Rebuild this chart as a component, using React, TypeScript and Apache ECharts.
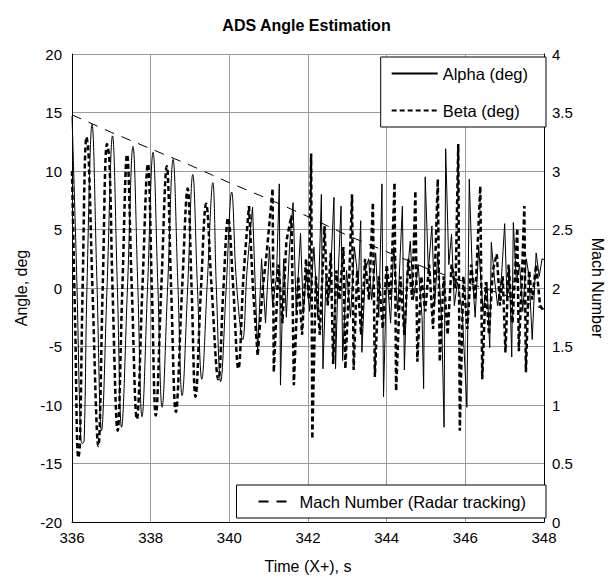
import React, { useEffect, useRef } from "react";
import * as echarts from "echarts";

// ---- Data ----
const xTicks = [336, 338, 340, 342, 344, 346, 348];

// Alpha (deg): early smooth oscillation
const alphaEarlyT = [336.0, 336.12, 336.22, 336.27, 336.31, 336.38, 336.51, 336.63, 336.75, 336.89, 337.03, 337.15, 337.26, 337.41, 337.55, 337.67, 337.78, 337.92, 338.06, 338.18, 338.29, 338.43, 338.57, 338.69, 338.8, 338.94, 339.07, 339.19, 339.3, 339.44, 339.58, 339.67, 339.78, 339.92, 340.06, 340.18, 340.34, 340.45, 340.59];
const alphaEarlyV = [14.7, 1.0, -12.8, -13.3, -13.0, 0, 14.0, 1.0, -12.2, 0, 13.0, 0.5, -11.9, 0, 12.1, 0.5, -11.0, 0, 11.6, 0.5, -10.2, 0, 11.0, 0.5, -9.2, 0, 9.7, 0, -7.8, 0.5, 9.0, 0, -8.0, 0, 8.2, 0.5, -4.4, 1.5, 6.9];
// Alpha (deg): later noisy part
const alphaLateT = [340.59, 340.66, 340.72, 340.82, 340.92, 341.02, 341.1, 341.2, 341.27, 341.3, 341.38, 341.45, 341.53, 341.62, 341.7, 341.81, 341.88, 341.96, 342.04, 342.15, 342.25, 342.34, 342.38, 342.46, 342.55, 342.66, 342.7, 342.76, 342.84, 342.88, 342.98, 343.08, 343.18, 343.28, 343.34, 343.37, 343.46, 343.54, 343.62, 343.72, 343.8, 343.88, 343.92, 344.0, 344.1, 344.18, 344.28, 344.4, 344.45, 344.52, 344.6, 344.68, 344.8, 344.9, 344.94, 344.98, 345.06, 345.15, 345.22, 345.3, 345.4, 345.46, 345.5, 345.58, 345.65, 345.72, 345.8, 345.92, 346.04, 346.1, 346.18, 346.25, 346.34, 346.45, 346.55, 346.62, 346.66, 346.75, 346.82, 346.92, 347.0, 347.06, 347.12, 347.18, 347.22, 347.3, 347.38, 347.46, 347.55, 347.62, 347.7, 347.8, 347.88, 347.95, 348.0];
const alphaLateV = [6.9, 0, -5.5, 2.5, -3.0, 3.5, -1.5, 1.0, 8.9, -8.3, 2.5, -2.5, 3.5, 7.3, -2.0, 4.7, -2.2, 1.5, -2.0, 3.5, -2.5, 8.0, -6.9, 1.0, -0.5, 7.75, -6.9, 0.5, 7.0, -6.2, 1.5, -2.5, 3.5, 0.5, 5.75, -5.5, 1.5, 2.5, -1.0, 3.0, -2.5, 8.9, -9.3, 1.5, -3.0, 3.5, -2.0, 7.0, -7.0, 1.0, 4.0, -1.0, 2.0, -2.5, -8.6, 9.5, 1.5, 5.3, -1.5, 3.0, -3.0, -11.9, 11.9, 2.0, 4.6, -1.5, 0.5, -2.0, -10.2, 9.3, 1.0, -2.5, 3.5, -2.0, 0.5, -5.1, 3.9, 0.5, -1.5, 1.0, 5.5, -1.0, 1.5, -5.9, 5.6, 0.5, 2.0, -2.0, 2.5, 1.0, -4.4, 3.0, 1.0, 2.5, 2.4];

// Beta (deg): early smooth oscillation
const betaEarlyT = [336.0, 336.08, 336.16, 336.2, 336.27, 336.37, 336.42, 336.52, 336.67, 336.78, 336.89, 336.95, 337.03, 337.16, 337.28, 337.4, 337.52, 337.65, 337.79, 337.93, 338.03, 338.13, 338.27, 338.41, 338.52, 338.64, 338.8, 338.94, 339.04, 339.14, 339.28, 339.41, 339.55, 339.72, 339.85, 339.97, 340.1, 340.23, 340.36, 340.5];
const betaEarlyV = [10.0, -3.0, -14.5, -13.5, 0, 12.9, 11.5, 0, -13.5, 0, 12.3, 11.0, 0, -12.2, 0, 11.4, 0, -11.2, 0, 10.6, 0, -10.9, 0, 10.4, 0, -10.6, 0, 8.5, 0, -9.3, 0, 7.2, 0, -7.8, 0, 6.0, 0, -6.9, 1.0, 7.0];
// Beta (deg): later noisy part
const betaLateT = [340.5, 340.6, 340.72, 340.85, 340.95, 341.1, 341.13, 341.25, 341.35, 341.45, 341.58, 341.64, 341.75, 341.85, 341.95, 342.02, 342.08, 342.11, 342.2, 342.3, 342.42, 342.5, 342.58, 342.64, 342.72, 342.8, 342.9, 342.95, 343.05, 343.12, 343.16, 343.25, 343.35, 343.45, 343.55, 343.65, 343.7, 343.8, 343.9, 344.0, 344.1, 344.2, 344.24, 344.35, 344.45, 344.55, 344.65, 344.73, 344.78, 344.88, 344.98, 345.08, 345.18, 345.3, 345.35, 345.45, 345.55, 345.65, 345.75, 345.82, 345.86, 345.95, 346.05, 346.15, 346.25, 346.38, 346.43, 346.52, 346.6, 346.7, 346.8, 346.88, 346.95, 347.02, 347.1, 347.2, 347.32, 347.36, 347.44, 347.5, 347.54, 347.62, 347.7, 347.8, 347.9, 348.0];
const betaLateV = [7.0, 0, -5.8, 0, 3.0, 8.5, -7.2, 2.0, -3.0, 4.0, 6.2, -8.3, 1.0, -4.0, 2.5, -1.0, 11.5, -12.9, 1.0, -4.0, 5.3, -1.5, 3.0, -6.5, 1.5, -1.0, 3.5, -6.9, 1.0, 8.0, -7.0, 1.5, -4.0, 2.5, -1.0, 7.3, -7.6, 1.0, -3.5, 2.0, -1.0, 9.0, -8.8, 1.0, -4.0, 2.5, -1.0, 8.3, -6.3, 1.0, -2.0, 2.0, -3.5, 9.3, -6.3, 1.0, -4.0, 2.0, 0, 12.3, -12.2, 1.0, -3.5, 2.0, -1.0, 8.7, -7.8, 0.5, -4.0, 1.5, 2.9, -1.5, 1.0, -5.5, 2.0, -3.0, 5.1, -5.4, 1.0, 7.0, -7.2, 1.5, -1.0, 2.0, -1.5, -2.0];

// Mach Number (Radar tracking), right axis
const machT = [336, 337, 338, 339, 340, 341, 342, 343, 344, 345, 346, 347, 348];
const machV = [3.48, 3.33, 3.19, 3.05, 2.9, 2.76, 2.61, 2.45, 2.31, 2.17, 2.05, 1.94, 1.82];

const zip = (t: number[], v: number[]) => t.map((x, i) => [x, v[i]]);

const FONT = "Liberation Sans, Arial, sans-serif";
const HIDDEN_SYMBOL = { color: "rgba(0,0,0,0)", borderWidth: 0, borderColor: "rgba(0,0,0,0)", opacity: 0 };

export default function App() {
  const ref = useRef<HTMLDivElement>(null);
  useEffect(() => {
    document.body.style.margin = "0";
    const chart = echarts.init(ref.current!, null, { renderer: "svg" });
    const alphaStyle = { color: "#000", width: 1, type: "solid" as const };
    const betaStyle = { color: "#000", width: 2.5, type: [5, 3] as any };
    chart.setOption({
      animation: false,
      backgroundColor: "#fff",
      textStyle: { fontFamily: FONT, color: "#000" },
      title: {
        text: "ADS Angle Estimation",
        left: "center",
        top: 12,
        textStyle: { fontFamily: FONT, fontSize: 16, fontWeight: "bold", color: "#000" },
      },
      grid: { left: 72, right: 67, top: 54, bottom: 62, containLabel: false },
      legend: [
        {
          data: ["Alpha (deg)", "Beta (deg)"],
          orient: "vertical",
          right: 67,
          top: 57,
          align: "left",
          itemWidth: 46,
          itemHeight: 14,
          itemGap: 20,
          padding: [8, 18, 8, 10],
          borderColor: "#000",
          borderWidth: 1,
          backgroundColor: "#fff",
          borderRadius: 0,
          itemStyle: HIDDEN_SYMBOL,
          textStyle: { fontFamily: FONT, fontSize: 16.5, color: "#000" },
        },
        {
          data: ["Mach Number (Radar tracking)"],
          orient: "horizontal",
          right: 67,
          top: 485,
          itemWidth: 36,
          itemHeight: 14,
          padding: [8, 20, 8, 21],
          borderColor: "#000",
          borderWidth: 1,
          backgroundColor: "#fff",
          borderRadius: 0,
          itemStyle: HIDDEN_SYMBOL,
          textStyle: { fontFamily: FONT, fontSize: 16.5, color: "#000" },
        },
      ],
      xAxis: {
        type: "value",
        min: xTicks[0],
        max: xTicks[xTicks.length - 1],
        interval: 2,
        name: "Time (X+), s",
        nameLocation: "middle",
        nameGap: 36,
        nameTextStyle: { fontFamily: FONT, fontSize: 16, color: "#000" },
        axisLine: { show: true, onZero: false, lineStyle: { color: "#000", width: 1 } },
        axisTick: { show: false },
        axisLabel: { fontFamily: FONT, fontSize: 15, color: "#000", margin: 8 },
        splitLine: { show: true, lineStyle: { color: "#9a9a9a", width: 1 } },
      },
      yAxis: [
        {
          type: "value",
          min: -20,
          max: 20,
          interval: 5,
          name: "Angle, deg",
          nameLocation: "middle",
          nameGap: 42,
          nameTextStyle: { fontFamily: FONT, fontSize: 16, color: "#000" },
          axisLine: { show: true, onZero: false, lineStyle: { color: "#000", width: 1 } },
          axisTick: { show: false },
          axisLabel: { fontFamily: FONT, fontSize: 15, color: "#000", margin: 10 },
          splitLine: { show: true, lineStyle: { color: "#9a9a9a", width: 1 } },
        },
        {
          type: "value",
          min: 0,
          max: 4,
          interval: 0.5,
          position: "right",
          name: "Mach Number",
          nameLocation: "middle",
          nameRotate: -90,
          nameGap: 45,
          nameTextStyle: { fontFamily: FONT, fontSize: 16, color: "#000" },
          axisLine: { show: true, onZero: false, lineStyle: { color: "#000", width: 1 } },
          axisTick: { show: false },
          axisLabel: { fontFamily: FONT, fontSize: 15, color: "#000", margin: 8 },
          splitLine: { show: false },
        },
      ],
      series: [
        {
          name: "Alpha (deg)",
          type: "line",
          data: zip(alphaEarlyT, alphaEarlyV),
          symbol: "circle",
          showSymbol: false,
          smooth: 0.4,
          lineStyle: alphaStyle,
          itemStyle: { color: "#000" },
          z: 3,
        },
        {
          name: "Alpha (deg)",
          type: "line",
          data: zip(alphaLateT, alphaLateV),
          symbol: "circle",
          showSymbol: false,
          lineStyle: alphaStyle,
          itemStyle: { color: "#000" },
          z: 3,
        },
        {
          name: "Beta (deg)",
          type: "line",
          data: zip(betaEarlyT, betaEarlyV),
          symbol: "circle",
          showSymbol: false,
          smooth: 0.4,
          lineStyle: betaStyle,
          itemStyle: { color: "#000" },
          z: 2,
        },
        {
          name: "Beta (deg)",
          type: "line",
          data: zip(betaLateT, betaLateV),
          symbol: "circle",
          showSymbol: false,
          lineStyle: betaStyle,
          itemStyle: { color: "#000" },
          z: 2,
        },
        {
          name: "Mach Number (Radar tracking)",
          type: "line",
          yAxisIndex: 1,
          data: zip(machT, machV),
          symbol: "circle",
          showSymbol: false,
          lineStyle: { color: "#000", width: 1, type: [10, 8] },
          itemStyle: { color: "#000" },
          z: 4,
        },
      ],
    });
    return () => chart.dispose();
  }, []);
  return <div ref={ref} style={{ width: 613, height: 584 }} />;
}
